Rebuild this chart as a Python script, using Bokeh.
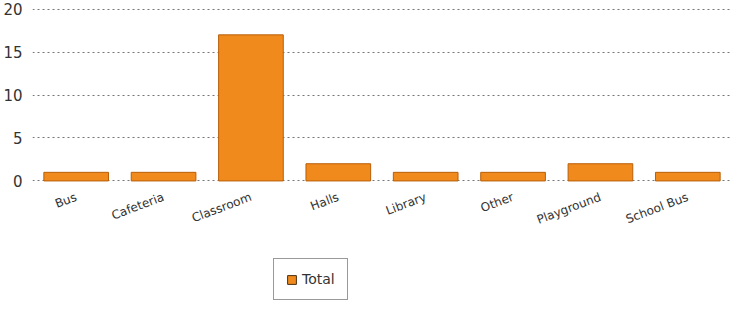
from bokeh.plotting import figure
from bokeh.models import Legend, LegendItem
from bokeh.layouts import column
from bokeh.embed import file_html
from bokeh.resources import INLINE

categories = ["Bus", "Cafeteria", "Classroom", "Halls", "Library", "Other", "Playground", "School Bus"]
totals = [1, 1, 17, 2, 1, 1, 2, 1]
y_ticks = [0, 5, 10, 15, 20]
series_name = "Total"

BAR_FILL = "#f18a1c"
BAR_LINE = "#b85e08"

p = figure(x_range=categories, y_range=(-0.3, 20.3), width=731, height=236,
           output_backend="svg", toolbar_location=None,
           min_border_left=28, min_border_right=0, min_border_top=6, min_border_bottom=49)
p.outline_line_color = None
p.background_fill_color = "white"
p.border_fill_color = "white"

r = p.vbar(x=categories, top=totals, bottom=0, width=0.74, fill_color=BAR_FILL,
           line_color=BAR_LINE, line_width=1)

p.xgrid.grid_line_color = None
p.ygrid.grid_line_color = "#777777"
p.ygrid.grid_line_dash = "2 3"
p.ygrid.ticker = y_ticks
p.ygrid.level = "underlay"

p.yaxis.ticker = y_ticks
p.yaxis.axis_line_color = None
p.yaxis.major_tick_line_color = None
p.yaxis.minor_tick_line_color = None
p.yaxis.major_label_text_font = "DejaVu Sans"
p.yaxis.major_label_text_font_size = "15px"
p.yaxis.major_label_text_color = "#333333"
p.yaxis.major_label_standoff = 4

p.xaxis.axis_line_color = None
p.xaxis.major_tick_line_color = None
p.xaxis.minor_tick_line_color = None
p.xaxis.major_label_orientation = 0.36
p.xaxis.major_label_text_font = "DejaVu Sans"
p.xaxis.major_label_text_font_size = "12px"
p.xaxis.major_label_text_color = "#333333"
p.xaxis.major_label_standoff = 7

# legend strip below the chart
q = figure(width=731, height=65, output_backend="svg", toolbar_location=None,
           min_border=0, x_range=(0, 1), y_range=(0, 1))
q.outline_line_color = None
q.axis.visible = False
q.grid.visible = False
q.background_fill_color = "white"
q.border_fill_color = "white"
# off-screen swatch renderer that only supplies the legend glyph
dummy = q.vbar(x=[5], top=[6], bottom=[5], width=0.5, fill_color=BAR_FILL,
               line_color="#4a3010", line_width=1)

legend = Legend(items=[LegendItem(label=series_name, renderers=[dummy])],
                location=(241, 1), orientation="horizontal",
                label_text_font="DejaVu Sans", label_text_font_size="14px",
                label_text_color="#333333",
                glyph_width=11, glyph_height=11,
                border_line_color="#333333", border_line_width=1,
                padding=12, spacing=4, margin=0, label_standoff=5)
q.add_layout(legend, "center")

layout = column(p, q, spacing=0)
open("out.html", "w").write(file_html(layout, INLINE))
